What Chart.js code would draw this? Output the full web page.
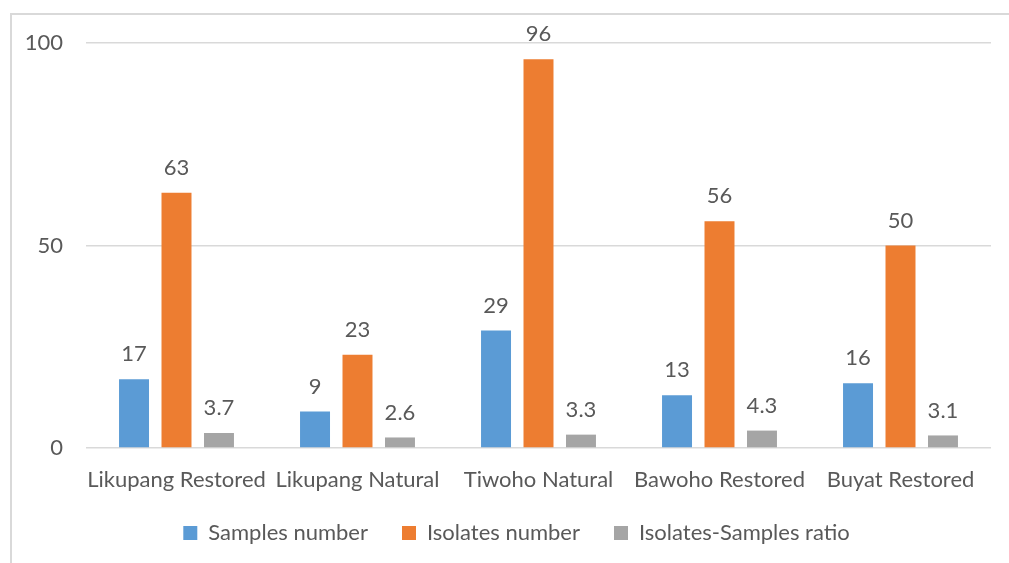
<!DOCTYPE html>
<html>
<head>
<meta charset="utf-8">
<script src="https://cdn.jsdelivr.net/npm/chart.js@4.4.1/dist/chart.umd.min.js"></script>
<style>
  html, body { margin: 0; padding: 0; background: #fff; }
  #wrap { width: 1009px; height: 563px; position: relative; }
</style>
</head>
<body>
<div id="wrap"><canvas id="chart"></canvas></div>
<script>
// Sites
const sites = ["Likupang Restored", "Likupang Natural", "Tiwoho Natural", "Bawoho Restored", "Buyat Restored"];
// Series values
const samplesNumber = [17, 9, 29, 13, 16];
const isolatesNumber = [63, 23, 96, 56, 50];
const isolatesSamplesRatio = [3.7, 2.6, 3.3, 4.3, 3.1];
// Y axis ticks
const yTicks = [0, 50, 100];

const FONT = "Lato";
const TEXT = "#595959";

// Draw the value above each bar
const valueLabels = {
  id: "valueLabels",
  afterDatasetsDraw(chart) {
    const ctx = chart.ctx;
    ctx.save();
    ctx.font = `22px ${FONT}`;
    ctx.fillStyle = TEXT;
    ctx.textAlign = "center";
    ctx.textBaseline = "middle";
    chart.data.datasets.forEach((ds, i) => {
      chart.getDatasetMeta(i).data.forEach((bar, j) => {
        ctx.fillText(String(ds.data[j]), bar.x, bar.y - 25);
      });
    });
    ctx.restore();
  }
};

// Light frame around the chart (as in the spreadsheet export)
const frame = {
  id: "frame",
  beforeDraw(chart) {
    const ctx = chart.ctx;
    ctx.save();
    ctx.strokeStyle = "#d9d9d9";
    ctx.lineWidth = 2;
    ctx.strokeRect(11, 14, 1100, 700);
    ctx.restore();
  }
};

// legend sits a bit right of centre and closer to the axis in the original
const legendShift = {
  id: "legendShift",
  afterLayout(chart) {
    const lg = chart.legend;
    lg.left += 21;
    lg.right += 21;
    lg.top -= 8;
    lg.bottom -= 8;
  }
};

new Chart(document.getElementById("chart"), {
  type: "bar",
  data: {
    labels: sites,
    datasets: [
      { label: "Samples number", data: samplesNumber, backgroundColor: "#5b9bd5" },
      { label: "Isolates number", data: isolatesNumber, backgroundColor: "#ed7d31" },
      { label: "Isolates-Samples ratio", data: isolatesSamplesRatio, backgroundColor: "#a5a5a5" },
    ],
  },
  options: {
    responsive: true,
    maintainAspectRatio: false,
    animation: false,
    categoryPercentage: 0.704,
    barPercentage: 0.706,
    layout: { padding: { left: 0, right: 18, top: 43, bottom: 1 } },
    scales: {
      x: {
        grid: { display: false },
        border: { display: false },
        ticks: { color: TEXT, font: { family: FONT, size: 22 }, padding: 11, maxRotation: 0, autoSkip: false },
        afterFit(scale) { scale.height = 48; },
      },
      y: {
        min: 0,
        max: 100,
        afterBuildTicks(scale) { scale.ticks = yTicks.map(v => ({ value: v })); },
        grid: { color: "#d9d9d9", lineWidth: 1.5, drawTicks: false },
        border: { display: false },
        ticks: { color: TEXT, font: { family: FONT, size: 22 }, padding: 23 },
        afterFit(scale) { scale.width = 86; },
      },
    },
    plugins: {
      legend: {
        position: "bottom",
        labels: { color: TEXT, font: { family: FONT, size: 22 }, boxWidth: 14, boxHeight: 14, padding: 34 },
      },
      tooltip: { enabled: false },
    },
  },
  plugins: [valueLabels, frame, legendShift],
});
</script>
</body>
</html>
